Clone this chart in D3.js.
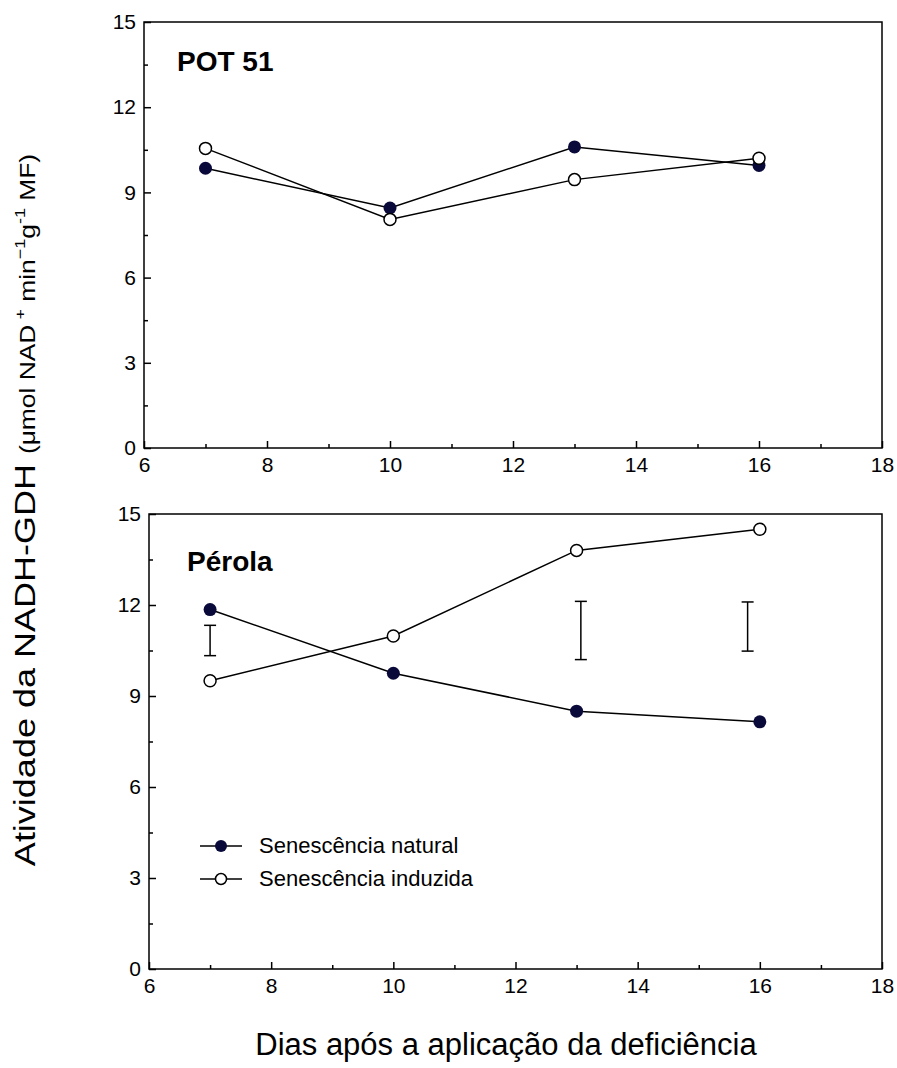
<!DOCTYPE html>
<html>
<head>
<meta charset="utf-8">
<script src="https://cdn.jsdelivr.net/npm/d3@7"></script>
<style>
  body { margin: 0; background: #fff; }
  svg text { font-family: Arial, "Liberation Sans", sans-serif; fill: #000; }
  .axis path, .axis line { stroke: #000; stroke-width: 1.5; }
</style>
</head>
<body>
<svg id="chart" width="897" height="1068"></svg>
<script>
// dias de coleta
const days = [7, 10, 13, 16];

// POT 51
const potNatural = [9.85, 8.45, 10.6, 9.95];
const potInduzida = [10.55, 8.05, 9.45, 10.2];

// Pérola
const perolaNatural = [11.85, 9.75, 8.5, 8.15];
const perolaInduzida = [9.5, 10.98, 13.8, 14.5];

// barras de erro (Pérola)
const errX = [7, 13.07, 15.8];
const errLow = [10.33, 10.2, 10.48];
const errHigh = [11.33, 12.12, 12.1];

const xMajor = [6, 8, 10, 12, 14, 16, 18];
const xMinor = [7, 9, 11, 13, 15, 17];
const yMajor = [0, 3, 6, 9, 12, 15];
const yMinor = [1.5, 4.5, 7.5, 10.5, 13.5];

const legendLabels = ['Senescência natural', 'Senescência induzida'];

const navy = '#0a0a3a';
const svg = d3.select('#chart');

function panel(box, title, natural, induzida, opts = {}) {
    const x = d3.scaleLinear().domain([6, 18]).range([box.left, box.right]);
    const y = d3.scaleLinear().domain([0, 15]).range([box.bottom, box.top]);
    const g = svg.append('g');

    // moldura
    g.append('rect')
        .attr('x', box.left).attr('y', box.top)
        .attr('width', box.right - box.left).attr('height', box.bottom - box.top)
        .attr('fill', 'none').attr('stroke', '#000').attr('stroke-width', 1.5);

    // eixos (ticks para dentro)
    const axisStyle = a => {
        a.select('.domain').remove();
        a.selectAll('text').style('font-size', '21px')
            .style('font-family', 'Arial, "Liberation Sans", sans-serif');
    };
    g.append('g').attr('class', 'axis')
        .attr('transform', `translate(0,${box.bottom})`)
        .call(d3.axisBottom(x).tickValues(xMajor).tickSize(-7).tickPadding(9).tickFormat(d3.format('d')))
        .call(axisStyle);
    g.append('g').attr('class', 'axis')
        .attr('transform', `translate(0,${box.bottom})`)
        .call(d3.axisBottom(x).tickValues(xMinor).tickSize(-4).tickFormat(''))
        .call(axisStyle);
    g.append('g').attr('class', 'axis')
        .attr('transform', `translate(${box.left},0)`)
        .call(d3.axisLeft(y).tickValues(yMajor).tickSize(-7).tickPadding(8).tickFormat(d3.format('d')))
        .call(axisStyle);
    g.append('g').attr('class', 'axis')
        .attr('transform', `translate(${box.left},0)`)
        .call(d3.axisLeft(y).tickValues(yMinor).tickSize(-4).tickFormat(''))
        .call(axisStyle);

    // título do painel
    g.append('text')
        .attr('x', box.left + opts.titleDx).attr('y', box.top + opts.titleDy)
        .attr('font-size', 28).attr('font-weight', 'bold')
        .text(title);

    // barras de erro
    if (opts.errors) {
        errX.forEach((d, i) => {
            const eg = g.append('g').attr('stroke', '#000').attr('stroke-width', 1.5);
            eg.append('line').attr('x1', x(d)).attr('x2', x(d)).attr('y1', y(errLow[i])).attr('y2', y(errHigh[i]));
            [errLow[i], errHigh[i]].forEach(v => {
                eg.append('line').attr('x1', x(d) - 6).attr('x2', x(d) + 6).attr('y1', y(v)).attr('y2', y(v));
            });
        });
    }

    const line = d3.line().x((d, i) => x(days[i])).y(d => y(d));
    [natural, induzida].forEach(vals => {
        g.append('path').attr('d', line(vals))
            .attr('fill', 'none').attr('stroke', '#000').attr('stroke-width', 1.5);
    });
    [[natural, navy], [induzida, '#fff']].forEach(([vals, fill]) => {
        g.selectAll(null).data(vals).enter().append('circle')
            .attr('cx', (d, i) => x(days[i])).attr('cy', d => y(d))
            .attr('r', fill === navy ? 6.5 : 6)
            .attr('fill', fill)
            .attr('stroke', fill === navy ? navy : '#000')
            .attr('stroke-width', fill === navy ? 0 : 1.5);
    });
    return {x, y};
}

panel({left: 144, right: 882, top: 22, bottom: 448}, 'POT 51', potNatural, potInduzida,
    {titleDx: 33, titleDy: 49});
panel({left: 149, right: 882, top: 514, bottom: 969}, 'Pérola', perolaNatural, perolaInduzida,
    {titleDx: 38, titleDy: 57, errors: true});

// legenda
const legend = svg.append('g');
legendLabels.forEach((lab, i) => {
    const ly = 846 + i * 33;
    legend.append('line').attr('x1', 200).attr('x2', 242).attr('y1', ly).attr('y2', ly)
        .attr('stroke', '#000').attr('stroke-width', 1.5);
    legend.append('circle').attr('cx', 221).attr('cy', ly).attr('r', i === 0 ? 6 : 5.5)
        .attr('fill', i === 0 ? navy : '#fff')
        .attr('stroke', i === 0 ? 'none' : '#000').attr('stroke-width', 1.5);
    legend.append('text').attr('x', 259).attr('y', ly + 7).attr('font-size', 22).text(lab);
});

// títulos dos eixos
svg.append('text')
    .attr('x', 506).attr('y', 1055)
    .attr('text-anchor', 'middle').attr('font-size', 31)
    .text('Dias após a aplicação da deficiência');

const yt = svg.append('text')
    .attr('transform', 'translate(35,510) rotate(-90) scale(1.2,1)')
    .attr('text-anchor', 'middle').attr('font-size', 30);
yt.append('tspan').text('Atividade da NADH-GDH ');
const unit = yt.append('tspan').attr('font-size', 22);
unit.append('tspan').text('(μmol NAD');
unit.append('tspan').attr('dy', -10).attr('font-size', 15).text(' +');
unit.append('tspan').attr('dy', 10).text(' min');
unit.append('tspan').attr('dy', -10).attr('font-size', 15).text('−1');
unit.append('tspan').attr('dy', 10).text('g');
unit.append('tspan').attr('dy', -10).attr('font-size', 15).text('-1');
unit.append('tspan').attr('dy', 10).text(' MF)');
</script>
</body>
</html>
